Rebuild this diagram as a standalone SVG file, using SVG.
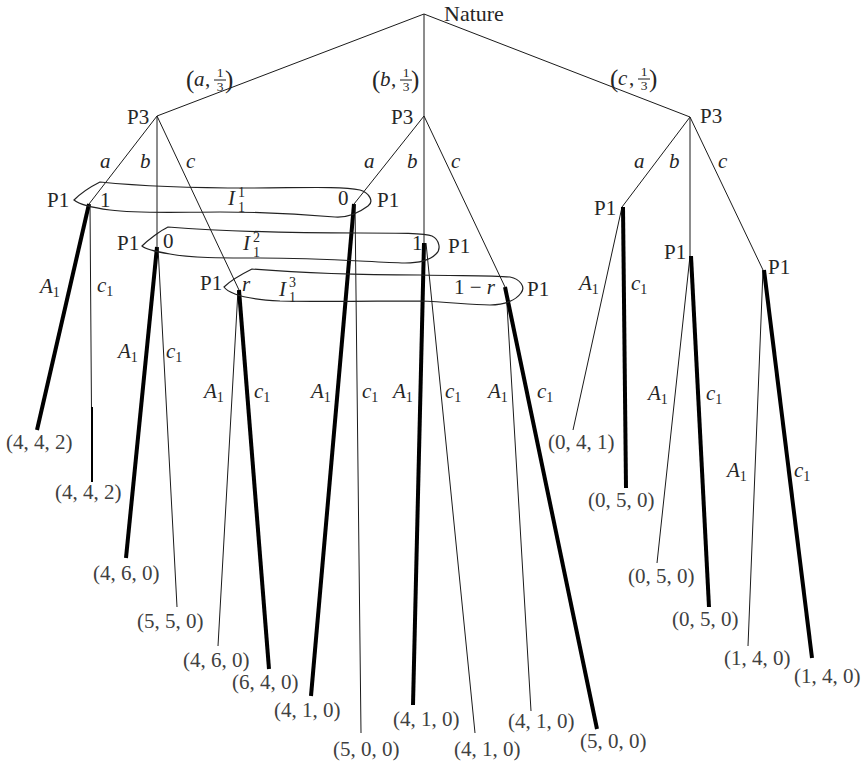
<svg xmlns="http://www.w3.org/2000/svg" width="866" height="764" viewBox="0 0 866 764">
<style>
.t { font-family: "Liberation Serif", "DejaVu Serif", serif; font-size: 21px; fill: #262626; }
.i { font-style: italic; }
.pay { fill: #404040; }
.s { font-size: 14px; font-style: normal; }
.fr { font-size: 13.5px; text-anchor: middle; }
.par { font-size: 25px; }
.thin { stroke: #1a1a1a; stroke-width: 1; fill: none; }
.thick { stroke: #000; stroke-width: 4; fill: none; }
.mid { stroke: #000; stroke-width: 2; fill: none; }
.loop { fill: none; stroke: #222; stroke-width: 1.2; }
</style>
<rect width="866" height="764" fill="#fff"/>

<g id="connectors">
  <line class="thin" x1="424" y1="14" x2="157" y2="116"/>
  <line class="thin" x1="424" y1="14" x2="424" y2="116"/>
  <line class="thin" x1="424" y1="14" x2="690" y2="117"/>
  <line class="thin" x1="157" y1="116" x2="89" y2="204"/>
  <line class="thin" x1="157" y1="116" x2="157" y2="247"/>
  <line class="thin" x1="157" y1="116" x2="239" y2="290"/>
  <line class="thin" x1="424" y1="116" x2="354" y2="204"/>
  <line class="thin" x1="424" y1="116" x2="424" y2="243"/>
  <line class="thin" x1="424" y1="116" x2="505" y2="287"/>
  <line class="thin" x1="690" y1="117" x2="622" y2="207"/>
  <line class="thin" x1="690" y1="117" x2="690" y2="256"/>
  <line class="thin" x1="690" y1="117" x2="763" y2="270"/>
  <line class="thick" x1="89" y1="204" x2="37" y2="430"/>
  <line class="thin" x1="90" y1="204" x2="92" y2="482"/>
  <line class="mid" x1="92" y1="407" x2="92" y2="482"/>
  <line class="thick" x1="157" y1="247" x2="126" y2="558"/>
  <line class="thin" x1="158" y1="247" x2="177" y2="607"/>
  <line class="thin" x1="238" y1="290" x2="218" y2="646"/>
  <line class="thick" x1="239" y1="290" x2="269" y2="669"/>
  <line class="thick" x1="354" y1="204" x2="311" y2="696"/>
  <line class="thin" x1="355" y1="204" x2="361" y2="733"/>
  <line class="thick" x1="424" y1="243" x2="413" y2="705"/>
  <line class="thin" x1="426" y1="243" x2="475" y2="733"/>
  <line class="thin" x1="506" y1="288" x2="531" y2="711"/>
  <line class="thick" x1="505" y1="287" x2="597" y2="729"/>
  <line class="thin" x1="622" y1="207" x2="573" y2="430"/>
  <line class="thick" x1="623" y1="207" x2="626" y2="488"/>
  <line class="thin" x1="690" y1="256" x2="657" y2="563"/>
  <line class="thick" x1="691" y1="256" x2="709" y2="607"/>
  <line class="thin" x1="763" y1="270" x2="748" y2="646"/>
  <line class="thick" x1="764" y1="270" x2="812" y2="658"/>
</g>

<g id="edge-labels" class="t">
  <g id="prob-a">
    <text class="par" x="186" y="88">(</text>
    <text class="i" x="194" y="86">a</text>
    <text x="205" y="86">,</text>
    <text class="fr" x="220" y="77">1</text>
    <line class="thin" x1="214" y1="80" x2="226" y2="80"/>
    <text class="fr" x="220" y="91">3</text>
    <text class="par" x="225" y="88">)</text>
  </g>
  <g id="prob-b">
    <text class="par" x="372" y="88">(</text>
    <text class="i" x="380" y="86">b</text>
    <text x="391" y="86">,</text>
    <text class="fr" x="406" y="77">1</text>
    <line class="thin" x1="400" y1="80" x2="412" y2="80"/>
    <text class="fr" x="406" y="91">3</text>
    <text class="par" x="411" y="88">)</text>
  </g>
  <g id="prob-c">
    <text class="par" x="610" y="87">(</text>
    <text class="i" x="618" y="85">c</text>
    <text x="629" y="85">,</text>
    <text class="fr" x="644" y="76">1</text>
    <line class="thin" x1="638" y1="79" x2="650" y2="79"/>
    <text class="fr" x="644" y="90">3</text>
    <text class="par" x="649" y="87">)</text>
  </g>
  <text class="i" x="100" y="168">a</text>
  <text class="i" x="140" y="168">b</text>
  <text class="i" x="186" y="168">c</text>
  <text class="i" x="364" y="168">a</text>
  <text class="i" x="407" y="168">b</text>
  <text class="i" x="451" y="168">c</text>
  <text class="i" x="634" y="168">a</text>
  <text class="i" x="669" y="168">b</text>
  <text class="i" x="718" y="168">c</text>

  <text x="40" y="293"><tspan class="i">A</tspan><tspan class="s" dy="4">1</tspan></text>
  <text x="97" y="292"><tspan class="i">c</tspan><tspan class="s" dy="4">1</tspan></text>
  <text x="118" y="358"><tspan class="i">A</tspan><tspan class="s" dy="4">1</tspan></text>
  <text x="166" y="358"><tspan class="i">c</tspan><tspan class="s" dy="4">1</tspan></text>
  <text x="204" y="398"><tspan class="i">A</tspan><tspan class="s" dy="4">1</tspan></text>
  <text x="254" y="398"><tspan class="i">c</tspan><tspan class="s" dy="4">1</tspan></text>
  <text x="311" y="398"><tspan class="i">A</tspan><tspan class="s" dy="4">1</tspan></text>
  <text x="362" y="398"><tspan class="i">c</tspan><tspan class="s" dy="4">1</tspan></text>
  <text x="393" y="398"><tspan class="i">A</tspan><tspan class="s" dy="4">1</tspan></text>
  <text x="445" y="398"><tspan class="i">c</tspan><tspan class="s" dy="4">1</tspan></text>
  <text x="488" y="398"><tspan class="i">A</tspan><tspan class="s" dy="4">1</tspan></text>
  <text x="537" y="398"><tspan class="i">c</tspan><tspan class="s" dy="4">1</tspan></text>
  <text x="579" y="290"><tspan class="i">A</tspan><tspan class="s" dy="4">1</tspan></text>
  <text x="631" y="290"><tspan class="i">c</tspan><tspan class="s" dy="4">1</tspan></text>
  <text x="648" y="400"><tspan class="i">A</tspan><tspan class="s" dy="4">1</tspan></text>
  <text x="706" y="400"><tspan class="i">c</tspan><tspan class="s" dy="4">1</tspan></text>
  <text x="727" y="477"><tspan class="i">A</tspan><tspan class="s" dy="4">1</tspan></text>
  <text x="794" y="477"><tspan class="i">c</tspan><tspan class="s" dy="4">1</tspan></text>
</g>

<g id="nature" class="t"><text x="444" y="21" style="font-size:22px">Nature</text></g>
<g id="p3-a" class="t"><text x="127" y="124">P3</text></g>
<g id="p3-b" class="t"><text x="391" y="124">P3</text></g>
<g id="p3-c" class="t"><text x="700" y="123">P3</text></g>

<g id="info-set-1" class="t">
  <path class="loop" d="M74,200 C80,194 92,186 100,182 C140,186 200,188 250,188 C300,188 340,186 360,190 C370,193 374,202 368,206 C360,212 350,218 335,217 C300,214 260,212 220,212 C180,212 140,214 110,210 C95,208 80,205 74,200 Z"/>
  <text class="i" x="228" y="205">I</text>
  <text class="s" x="238" y="197">1</text>
  <text class="s" x="238" y="212">1</text>
</g>
<g id="info-set-2" class="t">
  <path class="loop" d="M142,246 C148,240 160,231 168,227 C220,231 300,233 360,233 C400,233 425,233 432,236 C440,240 441,250 436,254 C430,260 420,263 405,263 C370,262 320,258 260,258 C220,258 190,258 170,254 C158,252 146,250 142,246 Z"/>
  <text class="i" x="243" y="250">I</text>
  <text class="s" x="253" y="242">2</text>
  <text class="s" x="253" y="257">1</text>
</g>
<g id="info-set-3" class="t">
  <path class="loop" d="M224,287 C230,281 244,273 252,269 C300,273 360,275 420,275 C460,276 490,275 510,277 C520,279 526,287 521,293 C516,300 505,305 490,305 C470,305 450,302 420,301 C380,301 320,302 280,301 C262,300 245,298 235,294 C230,292 226,290 224,287 Z"/>
  <text class="i" x="279" y="296">I</text>
  <text class="s" x="289" y="287">3</text>
  <text class="s" x="289" y="302">1</text>
</g>

<g id="p1-aa" class="t"><text x="47" y="207">P1</text><text x="100" y="207">1</text></g>
<g id="p1-ba" class="t"><text x="338" y="205">0</text><text x="377" y="207">P1</text></g>
<g id="p1-ab" class="t"><text x="117" y="250">P1</text><text x="163" y="248">0</text></g>
<g id="p1-bb" class="t"><text x="412" y="250">1</text><text x="448" y="253">P1</text></g>
<g id="p1-ac" class="t"><text x="200" y="290">P1</text><text class="i" x="242" y="291">r</text></g>
<g id="p1-bc" class="t"><text x="454" y="294">1 − <tspan class="i">r</tspan></text><text x="527" y="296">P1</text></g>
<g id="p1-ca" class="t"><text x="594" y="215">P1</text></g>
<g id="p1-cb" class="t"><text x="664" y="259">P1</text></g>
<g id="p1-cc" class="t"><text x="768" y="274">P1</text></g>

<g class="t pay">
  <g id="z1"><text x="6" y="449">(4, 4, 2)</text></g>
  <g id="z2"><text x="55" y="499">(4, 4, 2)</text></g>
  <g id="z3"><text x="93" y="580">(4, 6, 0)</text></g>
  <g id="z4"><text x="137" y="628">(5, 5, 0)</text></g>
  <g id="z5"><text x="183" y="667">(4, 6, 0)</text></g>
  <g id="z6"><text x="232" y="689">(6, 4, 0)</text></g>
  <g id="z7"><text x="274" y="717">(4, 1, 0)</text></g>
  <g id="z8"><text x="333" y="756">(5, 0, 0)</text></g>
  <g id="z9"><text x="393" y="726">(4, 1, 0)</text></g>
  <g id="z10"><text x="454" y="756">(4, 1, 0)</text></g>
  <g id="z11"><text x="508" y="728">(4, 1, 0)</text></g>
  <g id="z12"><text x="580" y="748">(5, 0, 0)</text></g>
  <g id="z13"><text x="548" y="449">(0, 4, 1)</text></g>
  <g id="z14"><text x="588" y="507">(0, 5, 0)</text></g>
  <g id="z15"><text x="628" y="583">(0, 5, 0)</text></g>
  <g id="z16"><text x="672" y="626">(0, 5, 0)</text></g>
  <g id="z17"><text x="724" y="665">(1, 4, 0)</text></g>
  <g id="z18"><text x="794" y="683">(1, 4, 0)</text></g>
</g>
</svg>
